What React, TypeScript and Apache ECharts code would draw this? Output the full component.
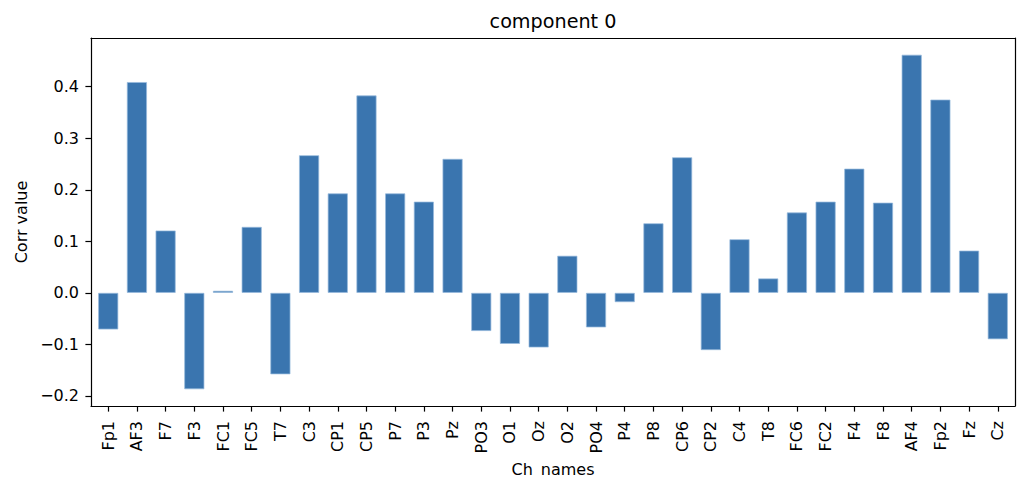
import React, { useEffect, useRef } from "react";
import * as echarts from "echarts";

const channels = [
  "Fp1", "AF3", "F7", "F3", "FC1", "FC5", "T7", "C3", "CP1", "CP5", "P7", "P3",
  "Pz", "PO3", "O1", "Oz", "O2", "PO4", "P4", "P8", "CP6", "CP2", "C4", "T8",
  "FC6", "FC2", "F4", "F8", "AF4", "Fp2", "Fz", "Cz",
];
const corrValues = [
  -0.071, 0.409, 0.121, -0.187, 0.004, 0.128, -0.158, 0.267, 0.193, 0.383, 0.193, 0.177,
  0.26, -0.074, -0.099, -0.106, 0.072, -0.067, -0.018, 0.135, 0.263, -0.111, 0.104, 0.028,
  0.156, 0.177, 0.241, 0.175, 0.462, 0.375, 0.082, -0.09,
];
const yTicks = [-0.2, -0.1, 0.0, 0.1, 0.2, 0.3, 0.4];
const titleText = "component 0";
const xName = "Ch_names";
const yName = "Corr value";

const FONT = "DejaVu Sans";

export default function App() {
  const ref = useRef<HTMLDivElement>(null);
  useEffect(() => {
    if (!ref.current) return;
    const chart = echarts.init(ref.current, null, { renderer: "svg" });
    const xIdx = channels.map((_, i) => i);
    chart.setOption({
      animation: false,
      backgroundColor: "#ffffff",
      grid: {
        left: 91,
        top: 38,
        width: 924,
        height: 368,
        show: false,
        containLabel: false,
        outerBoundsMode: "none",
      },
      graphic: [
        {
          type: "text",
          x: 553,
          y: 21.5,
          style: {
            text: titleText,
            fontFamily: FONT,
            fontSize: 19.2,
            fill: "#000",
            textAlign: "center",
            textVerticalAlign: "middle",
          },
        },
      ],
      xAxis: [
        {
          type: "value",
          min: -0.6,
          max: 31.6,
          name: xName,
          nameLocation: "middle",
          nameGap: 47,
          nameTextStyle: { fontFamily: FONT, fontSize: 16, color: "#000" },
          axisLine: { show: true, onZero: false, lineStyle: { color: "#000", width: 1.2 } },
          splitLine: { show: false },
          axisTick: {
            show: true,
            customValues: xIdx,
            length: 5.6,
            lineStyle: { color: "#000", width: 1.2 },
          },
          axisLabel: {
            customValues: xIdx,
            formatter: (v: number) => channels[Math.round(v)] ?? "",
            rotate: 90,
            margin: 15,
            fontFamily: FONT,
            fontSize: 16,
            color: "#000",
          },
        },
        {
          type: "value",
          position: "top",
          min: -0.6,
          max: 31.6,
          axisLine: { show: true, onZero: false, lineStyle: { color: "#000", width: 1.2 } },
          splitLine: { show: false },
          axisTick: { show: false },
          axisLabel: { show: false },
        },
      ],
      yAxis: [
        {
          type: "value",
          min: -0.2195,
          max: 0.4945,
          name: yName,
          nameLocation: "middle",
          nameGap: 60,
          nameTextStyle: { fontFamily: FONT, fontSize: 16, color: "#000" },
          axisLine: { show: true, onZero: false, lineStyle: { color: "#000", width: 1.2 } },
          splitLine: { show: false },
          axisTick: {
            show: true,
            customValues: yTicks,
            length: 5.6,
            lineStyle: { color: "#000", width: 1.2 },
          },
          axisLabel: {
            customValues: yTicks,
            formatter: (v: number) => v.toFixed(1).replace("-", "\u2212"),
            margin: 12,
            fontFamily: FONT,
            fontSize: 16,
            color: "#000",
          },
        },
        {
          type: "value",
          position: "right",
          min: -0.2195,
          max: 0.4945,
          axisLine: { show: true, onZero: false, lineStyle: { color: "#000", width: 1.2 } },
          splitLine: { show: false },
          axisTick: { show: false },
          axisLabel: { show: false },
        },
      ],
      series: [
        {
          type: "bar",
          data: corrValues.map((v, i) => [i, v]),
          barWidth: 20.1,
          itemStyle: {
            color: "#3a75af",
            borderColor: "rgba(150,185,220,0.9)",
            borderWidth: 0.8,
          },
        },
      ],
    });
    return () => chart.dispose();
  }, []);
  return (
    <div
      ref={ref}
      style={{ position: "absolute", left: 0, top: 0, width: 1021, height: 477 }}
    />
  );
}
